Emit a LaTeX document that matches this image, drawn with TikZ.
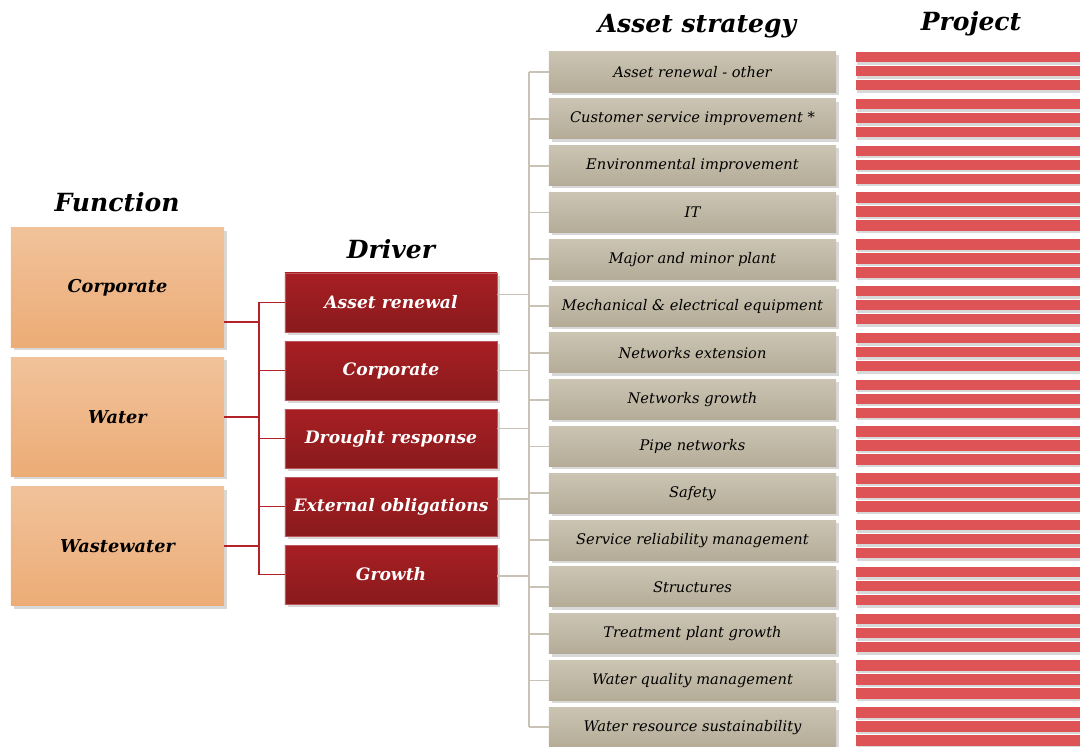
\documentclass[tikz,border=0pt]{standalone}
\usepackage{fontspec}
\setmainfont{DejaVu Serif}
\usetikzlibrary{positioning}
\usetikzlibrary{shadows}
\definecolor{functop}{RGB}{241,194,154}
\definecolor{funcbot}{RGB}{236,172,118}
\definecolor{drvtop}{RGB}{168,31,35}
\definecolor{drvbot}{RGB}{137,26,28}
\definecolor{asttop}{RGB}{203,196,179}
\definecolor{astbot}{RGB}{180,172,151}
\definecolor{barred}{RGB}{222,84,86}
\definecolor{redline}{RGB}{178,34,40}
\definecolor{grayline}{RGB}{200,195,180}
\definecolor{shadowgray}{RGB}{216,216,216}

\begin{document}
\begin{tikzpicture}[x=0.025cm,y=-0.025cm,
  every node/.style={inner sep=1pt,outer sep=0pt,font=\itshape},
  boxshadow/.style={drop shadow={shadow xshift=0.07cm,shadow yshift=-0.07cm,fill=shadowgray,opacity=1}},
  title/.style={font=\bfseries\itshape\fontsize{17.8}{20}\selectfont},
  func/.style={boxshadow,top color=functop,bottom color=funcbot,minimum width=5.325cm,minimum height=2.975cm,font=\bfseries\itshape\fontsize{12.6}{14}\selectfont},
  drv/.style={boxshadow,top color=drvtop,bottom color=drvbot,draw=drvtop!75!white,line width=0.4pt,text=white,minimum width=5.3cm,minimum height=1.475cm,font=\bfseries\itshape\fontsize{12.2}{14}\selectfont},
  ast/.style={boxshadow,top color=asttop,bottom color=astbot,minimum width=7.175cm,minimum height=1cm,font=\itshape\fontsize{10.4}{12}\selectfont},
  bar/.style={fill=barred,drop shadow={shadow xshift=0.03cm,shadow yshift=-0.06cm,fill=shadowgray,opacity=1}},
  redlink/.style={redline,line width=1.3pt},
  graylink/.style={grayline,line width=1.3pt}]
  \clip (0,0) rectangle (1080,747);

  \node[title] (tf) at (117,202) {Function};
  \node[title] (td) at (391,249) {Driver};
  \node[title] (ta) at (697,26) {Asset strategy};
  \node[title] (tp) at (971,24) {Project};

  \node[func] (f1) at (117.5,287.5) {Corporate};
  \node[func,below=0.26cm of f1] (f2) {Water};
  \node[func,below=0.26cm of f2] (f3) {Wastewater};

  \node[drv] (d1) at (391,302.5) {Asset renewal};
  \node[drv,below=0.225cm of d1] (d2) {Corporate};
  \node[drv,below=0.225cm of d2] (d3) {Drought response};
  \node[drv,below=0.225cm of d3] (d4) {External obligations};
  \node[drv,below=0.225cm of d4] (d5) {Growth};

  \node[ast] (a1) at (692.5,72) {Asset renewal - other};
  \node[ast,below=0.17cm of a1] (a2) {Customer service improvement *};
  \node[ast,below=0.17cm of a2] (a3) {Environmental improvement};
  \node[ast,below=0.17cm of a3] (a4) {IT};
  \node[ast,below=0.17cm of a4] (a5) {Major and minor plant};
  \node[ast,below=0.17cm of a5] (a6) {Mechanical \& electrical equipment};
  \node[ast,below=0.17cm of a6] (a7) {Networks extension};
  \node[ast,below=0.17cm of a7] (a8) {Networks growth};
  \node[ast,below=0.17cm of a8] (a9) {Pipe networks};
  \node[ast,below=0.17cm of a9] (a10) {Safety};
  \node[ast,below=0.17cm of a10] (a11) {Service reliability management};
  \node[ast,below=0.17cm of a11] (a12) {Structures};
  \node[ast,below=0.17cm of a12] (a13) {Treatment plant growth};
  \node[ast,below=0.17cm of a13] (a14) {Water quality management};
  \node[ast,below=0.17cm of a14] (a15) {Water resource sustainability};

  \foreach \i in {1,...,15}
    \foreach \k in {0,1,2}
      \path[bar] (856,{52+(\i-1)*46.8+\k*14}) rectangle +(240,10.5);

  \coordinate (fb) at (259,0);
  \coordinate (ab) at (529,0);
  \draw[redlink] ([yshift=-0.86cm]f1.east) -- ([yshift=-0.86cm]f1.east -| fb);
  \draw[redlink] (f2.east) -- (f2.east -| fb);
  \draw[redlink] (f3.east) -- (f3.east -| fb);
  \draw[redlink] (d1.west -| fb) -- (d5.west -| fb);
  \draw[redlink] (d1.west -| fb) -- (d1.west);
  \draw[redlink] (d2.west -| fb) -- (d2.west);
  \draw[redlink] (d3.west -| fb) -- (d3.west);
  \draw[redlink] (d4.west -| fb) -- (d4.west);
  \draw[redlink] (d5.west -| fb) -- (d5.west);

  \draw[graylink] ([yshift=0.2cm]d1.east) -- ([yshift=0.2cm]d1.east -| ab);
  \draw[graylink] (d2.east) -- (d2.east -| ab);
  \draw[graylink] ([yshift=0.25cm]d3.east) -- ([yshift=0.25cm]d3.east -| ab);
  \draw[graylink] ([yshift=0.18cm]d4.east) -- ([yshift=0.18cm]d4.east -| ab);
  \draw[graylink] ([yshift=-0.04cm]d5.east) -- ([yshift=-0.04cm]d5.east -| ab);
  \draw[graylink] (a1.west -| ab) -- (a15.west -| ab);
  \foreach \i in {1,...,15}
    \draw[graylink] (a\i.west -| ab) -- (a\i.west);
\end{tikzpicture}
\end{document}
